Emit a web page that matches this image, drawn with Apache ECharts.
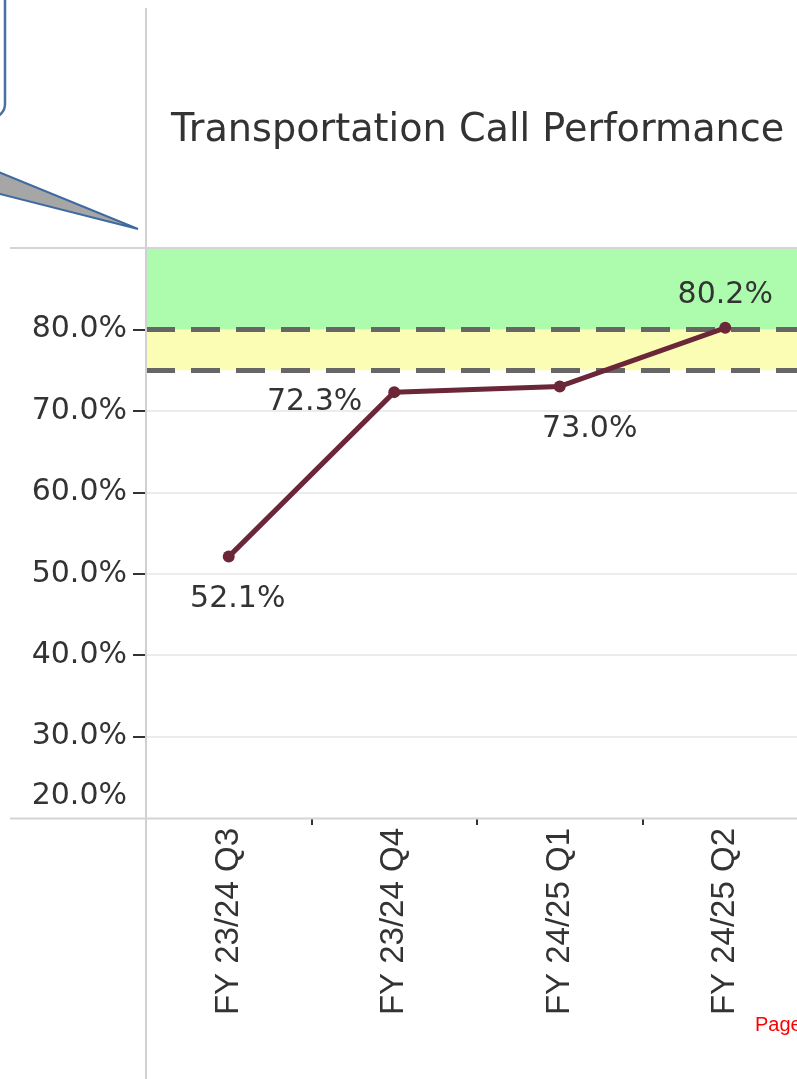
<!DOCTYPE html>
<html><head><meta charset="utf-8">
<script src="https://cdn.jsdelivr.net/npm/echarts@6/dist/echarts.min.js"></script>
<style>html,body{margin:0;padding:0;background:#fff}#c{width:797px;height:1079px}</style>
</head><body><div id="c"></div>
<script>
// ---- data ----
const categories = ['FY 23/24 Q3', 'FY 23/24 Q4', 'FY 24/25 Q1', 'FY 24/25 Q2'];
const performance = [52.1, 72.3, 73.0, 80.2];
const yTickLabels = [20, 30, 40, 50, 60, 70, 80];
const yTickMarks = [30, 40, 50, 60, 70, 80];
const greenBand = [80, 90];
const yellowBand = [75, 80];
const targetLines = [80, 75];
const yRange = [20, 90];

// ---- styles ----
const FONT = 'DejaVu Sans';
const TXT = '#333333';
const LINE = '#6b2638';
const pointLabels = [
  {position: 'bottom', distance: 22, offset: [9, 0]},
  {position: 'left', distance: 26, offset: [0, 10]},
  {position: 'bottom', distance: 22, offset: [30, 0]},
  {position: 'top', distance: 12, offset: [0, 0]}
];

const chart = echarts.init(document.getElementById('c'), null, {renderer: 'canvas'});
chart.setOption({
  animation: false,
  backgroundColor: '#ffffff',
  title: {
    text: 'Transportation Call Performance', left: 166, top: 107,
    textStyle: {fontFamily: FONT, fontSize: 38.2, fontWeight: 'normal', color: TXT}
  },
  grid: {left: 146, top: 248, width: 662, height: 570, containLabel: false, outerBoundsMode: 'none'},
  xAxis: {
    type: 'category', data: categories, boundaryGap: true,
    axisLine: {show: false},
    axisTick: {show: true, length: 7, interval: function (i) { return i > 0; }, lineStyle: {color: TXT, width: 2}},
    axisLabel: {rotate: 90, margin: 10, fontFamily: 'Liberation Sans', fontSize: 33, color: TXT},
    splitLine: {show: false}
  },
  yAxis: {
    type: 'value', min: yRange[0], max: yRange[1], interval: 10,
    axisLine: {show: false},
    axisTick: {show: true, length: 13, customValues: yTickMarks, lineStyle: {color: TXT, width: 2}},
    axisLabel: {
      margin: 19, fontFamily: FONT, fontSize: 30, color: TXT,
      formatter: function (v) {
        const r = Math.round(v);
        if (yTickLabels.indexOf(r) < 0) return '';
        const s = r.toFixed(1) + '%';
        return r === yTickLabels[0] ? '{low|' + s + '}' : s;
      },
      rich: {low: {padding: [0, 0, 44, 0], fontFamily: FONT, fontSize: 30, color: TXT}}
    },
    splitLine: {show: true, lineStyle: {color: '#ececec', width: 2}}
  },
  graphic: [
    {type: 'rect', z: 100, shape: {x: -300, y: -300, width: 305, height: 418, r: 14},
     style: {fill: '#ffffff', stroke: '#4a6fa0', lineWidth: 2.5}},
    {type: 'polygon', z: 100, shape: {points: [[-4, 171], [138, 229], [-4, 193]]},
     style: {fill: '#a6a6a6', stroke: '#3f6aa0', lineWidth: 2}},
    {type: 'line', z: 100, shape: {x1: 146, y1: 8, x2: 146, y2: 1079}, style: {stroke: '#d0d0d0', lineWidth: 2}},
    {type: 'line', z: 100, shape: {x1: 10, y1: 248, x2: 797, y2: 248}, style: {stroke: '#d4d4d4', lineWidth: 2}},
    {type: 'line', z: 100, shape: {x1: 10, y1: 818.5, x2: 797, y2: 818.5}, style: {stroke: '#d4d4d4', lineWidth: 2}},
    {type: 'text', z: 100, left: 755, top: 1015, style: {text: 'Page', fill: '#ff0000', font: '20px "Liberation Sans"'}}
  ],
  series: [
    {
      type: 'line', data: [], z: 1, silent: true,
      markArea: {
        silent: true,
        data: [
          [{yAxis: greenBand[0], itemStyle: {color: '#adfcad'}}, {yAxis: greenBand[1]}],
          [{yAxis: yellowBand[0], itemStyle: {color: '#fcfdb5'}}, {yAxis: yellowBand[1]}]
        ]
      },
      markLine: {
        silent: true, symbol: 'none', label: {show: false},
        lineStyle: {color: '#666666', width: 5, type: [29, 16]},
        data: targetLines.map(function (v) { return {yAxis: v}; })
      }
    },
    {
      type: 'line', z: 5,
      data: performance.map(function (v, i) { return {value: v, label: pointLabels[i]}; }),
      symbol: 'circle', symbolSize: 12,
      lineStyle: {color: LINE, width: 5}, itemStyle: {color: LINE},
      label: {
        show: true, fontFamily: FONT, fontSize: 30, color: TXT,
        formatter: function (p) { return p.value.toFixed(1) + '%'; }
      }
    }
  ]
});
</script>
</body></html>
